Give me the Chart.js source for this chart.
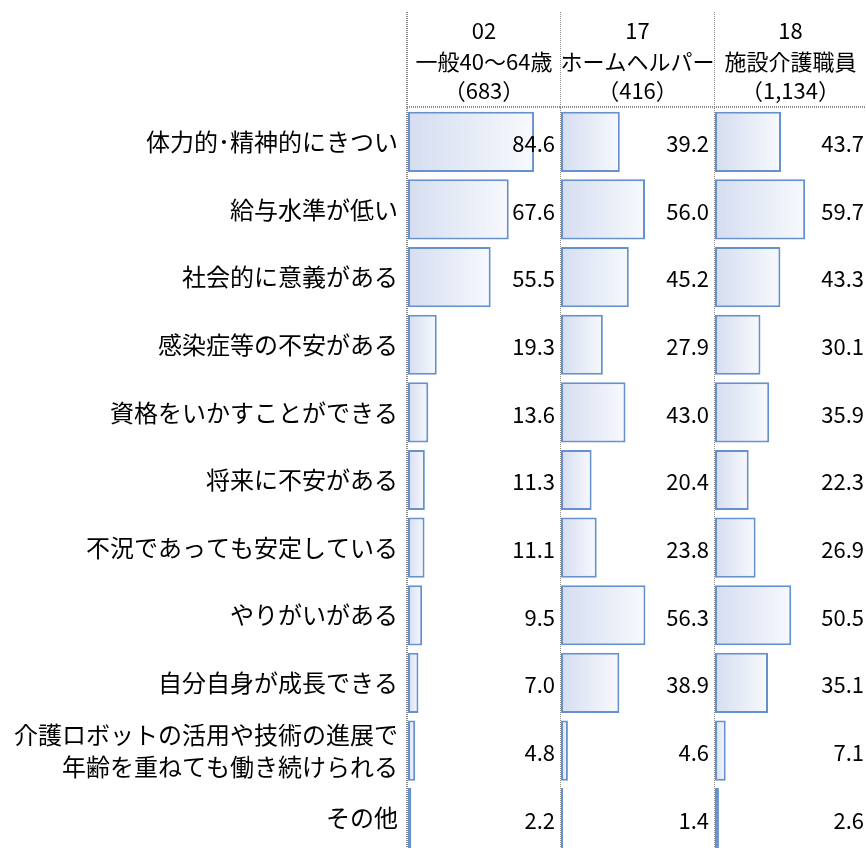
<!DOCTYPE html>
<html><head><meta charset="utf-8">
<script src="https://cdn.jsdelivr.net/npm/chart.js@4"></script>
<style>
html,body{margin:0;padding:0;background:#fff;}
#wrap{position:relative;width:866px;height:848px;overflow:hidden;background:#fff;}
.pane{position:absolute;top:0;}
</style></head>
<body>
<div id="wrap">
  <div class="pane" style="left:0;width:560px;height:878px"><canvas id="c0" width="560" height="878"></canvas></div>
  <div class="pane" style="left:560px;width:154px;height:852px"><canvas id="c1" width="154" height="852"></canvas></div>
  <div class="pane" style="left:714px;width:152px;height:852px"><canvas id="c2" width="152" height="852"></canvas></div>
</div>
<script>
const categories = [
  '体力的･精神的にきつい',
  '給与水準が低い',
  '社会的に意義がある',
  '感染症等の不安がある',
  '資格をいかすことができる',
  '将来に不安がある',
  '不況であっても安定している',
  'やりがいがある',
  '自分自身が成長できる',
  ['介護ロボットの活用や技術の進展で', '年齢を重ねても働き続けられる'],
  'その他'
];
const seriesCodes = ['02', '17', '18'];
const seriesNames = ['一般40～64歳', 'ホームヘルパー', '施設介護職員'];
const seriesN = ['（683）', '（416）', '（1,134）'];
const values02 = [84.6, 67.6, 55.5, 19.3, 13.6, 11.3, 11.1, 9.5, 7.0, 4.8, 2.2];
const values17 = [39.2, 56.0, 45.2, 27.9, 43.0, 20.4, 23.8, 56.3, 38.9, 4.6, 1.4];
const values18 = [43.7, 59.7, 43.3, 30.1, 35.9, 22.3, 26.9, 50.5, 35.1, 7.1, 2.6];
const allSeries = [values02, values17, values18];

const FONT = '"Noto Sans CJK JP", "Noto Sans", sans-serif';

const panelPlugin = {
  id: 'panelDecor',
  beforeDatasetsDraw(chart, args, opts) {
    const ctx = chart.ctx;
    const a = chart.chartArea;
    ctx.save();
    ctx.strokeStyle = '#8c8c8c';
    ctx.lineWidth = 2;
    ctx.setLineDash([1, 1]);
    const lx = a.left - 1;
    ctx.beginPath();
    ctx.moveTo(lx, 12);
    ctx.lineTo(lx, chart.height);
    ctx.stroke();
    ctx.beginPath();
    ctx.moveTo(lx, 107);
    ctx.lineTo(chart.width, 107);
    ctx.stroke();
    ctx.restore();
  },
  afterDatasetsDraw(chart, args, opts) {
    const ctx = chart.ctx;
    const a = chart.chartArea;
    const i = opts.idx;
    ctx.save();
    ctx.fillStyle = '#000';
    ctx.textAlign = 'center';
    ctx.textBaseline = 'middle';
    ctx.font = '22px ' + FONT;
    const cx = (a.left + chart.width) / 2;
    ctx.fillText(seriesCodes[i], cx, 31);
    ctx.fillText(seriesNames[i], cx, 62);
    ctx.fillText(seriesN[i], cx, 91);
    // value labels
    ctx.textAlign = 'right';
    ctx.font = '22px ' + FONT;
    const meta = chart.getDatasetMeta(0);
    meta.data.forEach((bar, j) => {
      const v = chart.data.datasets[0].data[j];
      ctx.fillText(v.toFixed(1), a.right - 2, bar.y + 2);
    });
    ctx.restore();
  }
};

function makeGradient(context) {
  const chart = context.chart;
  const a = chart.chartArea;
  if (!a) return '#e3e8f5';
  const xs = chart.scales.x;
  const v = context.raw;
  const x0 = xs.getPixelForValue(0);
  const x1 = Math.max(xs.getPixelForValue(v), x0 + 1);
  const g = chart.ctx.createLinearGradient(x0, 0, x1, 0);
  g.addColorStop(0, '#d5ddf0');
  g.addColorStop(1, '#f7f9fd');
  return g;
}

function build(id, idx, showLabels, padL, padR) {
  const cfg = {
    type: 'bar',
    data: {
      labels: categories,
      datasets: [{
        data: allSeries[idx],
        backgroundColor: makeGradient,
        borderColor: '#6592cd',
        borderWidth: 2,
        borderSkipped: false,
        barPercentage: 0.89,
        categoryPercentage: 1.0
      }]
    },
    options: {
      indexAxis: 'y',
      responsive: false,
      animation: false,
      devicePixelRatio: 1,
      layout: { padding: { top: 108, bottom: 0, left: padL, right: padR } },
      plugins: {
        legend: { display: false },
        tooltip: { enabled: false },
        panelDecor: { idx: idx }
      },
      scales: {
        x: { display: false, min: 0, max: 100 },
        y: {
          display: showLabels,
          grid: { display: false, drawTicks: false },
          border: { display: false },
          ticks: {
            color: '#000',
            padding: 10,
            font: { family: FONT, size: 24, lineHeight: 1.33 }
          },
          afterFit(scale) { if (showLabels) scale.width = 408; }
        }
      }
    },
    plugins: [panelPlugin]
  };
  return new Chart(document.getElementById(id), cfg);
}

build('c0', 0, true, 0, 3);
build('c1', 1, false, 1, 3);
build('c2', 2, false, 1, 0);
</script>
</body></html>
